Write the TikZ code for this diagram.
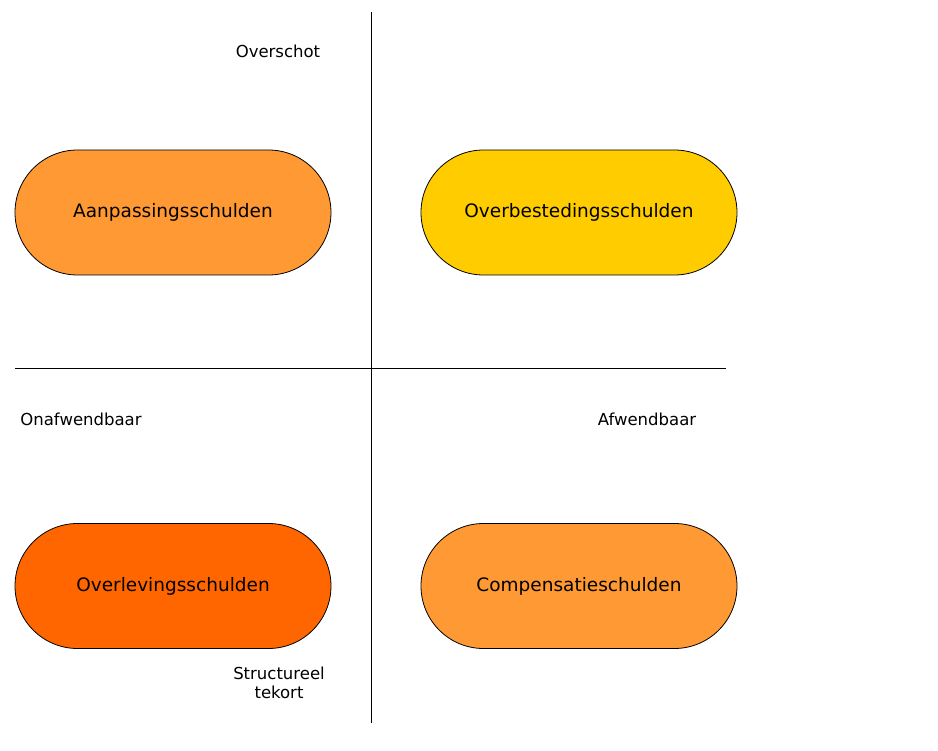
\documentclass[tikz,border=0pt]{standalone}
\usepackage{fontspec}
\setmainfont{DejaVu Sans}
\usetikzlibrary{shapes.misc}
\definecolor{lichtoranje}{HTML}{FF9933}
\definecolor{geel}{HTML}{FFCC00}
\definecolor{donkeroranje}{HTML}{FF6600}
\tikzset{
	schuld/.style={draw=black,line width=0.8pt,rounded rectangle,minimum width=316pt,minimum height=125pt,inner sep=0pt,font=\fontsize{18.5}{22}\selectfont},
	label/.style={font=\fontsize{16.5}{19}\selectfont,align=center,inner sep=0pt}
}
\begin{document}
\begin{tikzpicture}[x=1pt,y=-1pt]
	\useasboundingbox (0,0) rectangle (938,751);
	\coordinate (top) at (371,12);
	\coordinate (bottom) at (371,723);
	\coordinate (left) at (15,368);
	\coordinate (right) at (726,368);
	\draw [line width=0.8pt] (top) -- (bottom);
	\draw [line width=0.8pt] (left) -- (right);
	\node [schuld,fill=lichtoranje] (A) at (173,212.5) {Aanpassingsschulden};
	\node [schuld,fill=geel] (B) at (579,212.5) {Overbestedingsschulden};
	\node [schuld,fill=donkeroranje] (C) at (173,586) {Overlevingsschulden};
	\node [schuld,fill=lichtoranje] (D) at (579,586) {Compensatieschulden};
	\node [label] (overschot) at (278,51) {Overschot};
	\node [label] (onafwendbaar) at (81,419) {Onafwendbaar};
	\node [label] (afwendbaar) at (647,419) {Afwendbaar};
	\node [label] (tekort) at (279,683) {Structureel\\tekort};
\end{tikzpicture}
\end{document}
